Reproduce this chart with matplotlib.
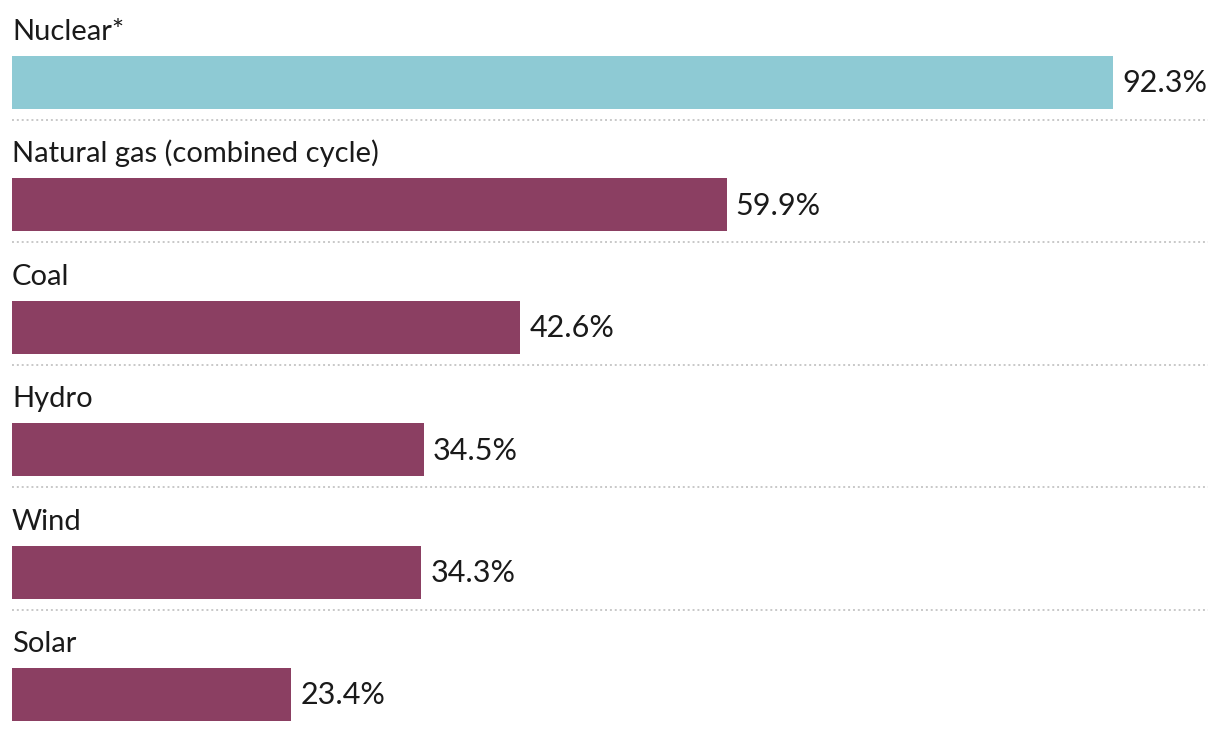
import matplotlib
matplotlib.use("Agg")
import matplotlib.pyplot as plt

categories = ["Nuclear*", "Natural gas (combined cycle)", "Coal", "Hydro", "Wind", "Solar"]
values = [92.3, 59.9, 42.6, 34.5, 34.3, 23.4]
colors = ["#8ecad4", "#8b3f62", "#8b3f62", "#8b3f62", "#8b3f62", "#8b3f62"]

plt.rcParams['font.family'] = ['Lato', 'DejaVu Sans']

W, H = 1220, 734
fig = plt.figure(figsize=(W / 100, H / 100), dpi=100)
ax = fig.add_axes([0, 0, 1, 1])

# pixel-ish layout: x in data units, y in pixels
scale = 11.93  # px per percent
left = 12
ax.set_xlim(-left / scale, (W - left) / scale)
ax.set_ylim(H, 0)
ax.axis("off")

pitch = 122.4
bar_h = 53
first_center = 82.5

for i, (cat, val, col) in enumerate(zip(categories, values, colors)):
    yc = first_center + i * pitch
    ax.barh(yc, val, height=bar_h, color=col, left=0)
    ax.text(val + 9 / scale, yc + 1, f"{val}%", va="center", ha="left",
            fontsize=22, color="#1a1a1a")
    ax.text(0, yc - bar_h / 2 - 16, cat, va="baseline", ha="left",
            fontsize=21, color="#1a1a1a")
    if i < len(categories) - 1:
        ly = yc + bar_h / 2 + 11
        ax.plot([0, (1208 - left) / scale], [ly, ly], color="#c8c8c8",
                linestyle=(0, (1, 1.5)), linewidth=1.4)

fig.savefig("out.png", dpi=100)
